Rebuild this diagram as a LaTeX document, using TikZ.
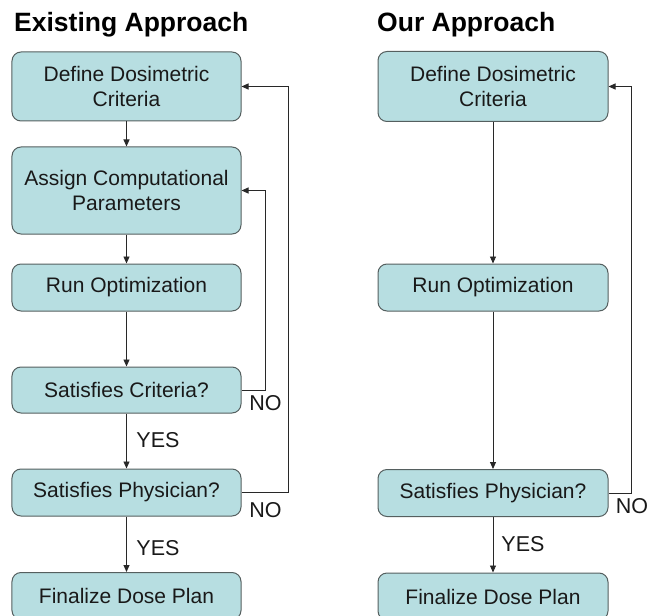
\documentclass[tikz,border=0pt]{standalone}
\usepackage{fontspec}
\setmainfont{Liberation Sans}
\usetikzlibrary{arrows.meta}
\definecolor{boxfill}{RGB}{183,222,225}
\definecolor{boxline}{RGB}{85,95,95}
\definecolor{linec}{RGB}{40,40,40}
\definecolor{textc}{RGB}{25,25,25}
\tikzset{
  stepbox/.style={draw=boxline, line width=1bp, fill=boxfill, rounded corners=9bp,
    minimum width=229bp, align=center, inner sep=0pt, text=textc,
    font=\fontsize{21bp}{25bp}\selectfont},
  conn/.style={draw=linec, line width=0.9bp, -{Triangle[length=7bp,width=6bp]}},
  lbl/.style={font=\fontsize{21.5bp}{24bp}\selectfont, inner sep=0pt, text=textc},
  ttl/.style={font=\fontsize{26.5bp}{30bp}\selectfont\bfseries, inner sep=0pt, anchor=base west}
}
\begin{document}
\begin{tikzpicture}[x=1bp,y=-1bp]
\useasboundingbox (0,0) rectangle (660,616);
% titles
\node[ttl] (t1) at (14,32) {Existing Approach};
\node[ttl] (t2) at (377,32) {Our Approach};
% left column
\node[stepbox, minimum height=69bp] (ldef) at (126.5,86.5) {Define Dosimetric\\Criteria};
\node[stepbox, minimum height=87bp] (lasg) at (126.5,190.5) {Assign Computational\\Parameters};
\node[stepbox, minimum height=47bp] (lrun) at (126.5,287.5) {Run Optimization};
\node[stepbox, minimum height=46bp] (lcrit) at (126.5,390) {Satisfies Criteria?};
\node[stepbox, minimum height=47bp] (lphys) at (126.5,492.5) {Satisfies Physician?};
\node[stepbox, minimum height=47bp] (lfin) at (126.5,596) {Finalize Dose Plan};
% right column
\node[stepbox, minimum height=70bp, minimum width=230bp] (rdef) at (493,86.5) {Define Dosimetric\\Criteria};
\node[stepbox, minimum height=47bp, minimum width=230bp] (rrun) at (493,287.5) {Run Optimization};
\node[stepbox, minimum height=47bp, minimum width=230bp] (rphys) at (493,493) {Satisfies Physician?};
\node[stepbox, minimum height=47bp, minimum width=230bp] (rfin) at (493,596.5) {Finalize Dose Plan};
% left connectors
\draw[conn] (ldef) -- (lasg);
\draw[conn] (lasg) -- (lrun);
\draw[conn] (lrun) -- (lcrit);
\draw[conn] (lcrit) -- (lphys);
\draw[conn] (lphys) -- (lfin);
\draw[conn] (lcrit.east) -- (265.5,390) |- (lasg.east);
\draw[conn] (lphys.east) -- (288,492.5) |- (ldef.east);
% right connectors
\draw[conn] (rdef) -- (rrun);
\draw[conn] (rrun) -- (rphys);
\draw[conn] (rphys) -- (rfin);
\draw[conn] (rphys.east) -- (631,493) |- (rdef.east);
% labels
\node[lbl] (no1) at (265.5,403) {NO};
\node[lbl] (no2) at (265.5,510) {NO};
\node[lbl] (no3) at (632,506) {NO};
\node[lbl] (yes1) at (158,440) {YES};
\node[lbl] (yes2) at (158,548) {YES};
\node[lbl] (yes3) at (523,544) {YES};
\end{tikzpicture}
\end{document}
